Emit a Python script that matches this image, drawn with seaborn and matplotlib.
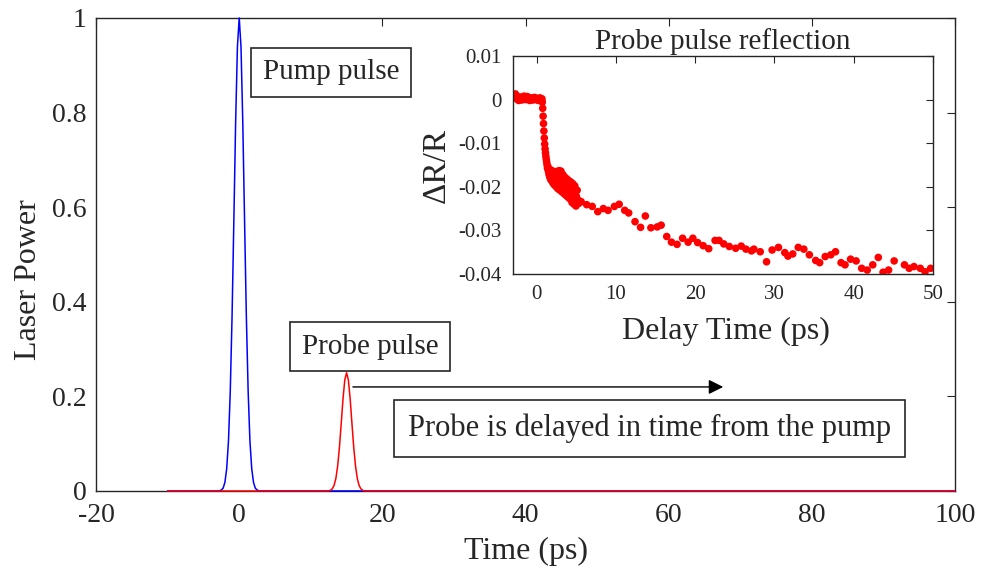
import matplotlib
matplotlib.use("Agg")
import matplotlib.pyplot as plt
import numpy as np
import pandas as pd
import seaborn as sns

# 脉冲形状（相对峰值，读自图中，单位 ps）
pulse_offsets = [-3.0, -2.75, -2.5, -2.25, -2.0, -1.75, -1.5, -1.25, -1.0, -0.75, -0.5, -0.25, 0.0,
                 0.25, 0.5, 0.75, 1.0, 1.25, 1.5, 1.75, 2.0, 2.25, 2.5, 2.75, 3.0]
pulse_shape = [0.0001, 0.0005, 0.002, 0.006, 0.018, 0.047, 0.105, 0.210, 0.368, 0.570, 0.779, 0.939, 1.0,
               0.939, 0.779, 0.570, 0.368, 0.210, 0.105, 0.047, 0.018, 0.006, 0.002, 0.0005, 0.0001]
time_start, time_end = -10, 100
pump_center, pump_peak = 0, 1.0
probe_center, probe_peak = 15, 0.25

# 插图数据：探测光反射 ΔR/R
delay_ps = [
    -3.0, -2.9, -2.8, -2.7, -2.6, -2.5, -2.4, -2.3, -2.2, -2.1, -2.0, -1.9, -1.8, -1.7, -1.6, -1.5,
    -1.4, -1.3, -1.2, -1.1, -1.0, -0.9, -0.8, -0.7, -0.6, -0.5, -0.4, -0.3, -0.2, -0.1, 0.0, 0.1,
    0.2, 0.3, 0.4, 0.5, 0.6, 0.65,
    0.7, 0.75, 0.8, 0.85, 0.9, 0.95, 1.0, 1.05, 1.1, 1.15, 1.2, 1.25, 1.3, 1.35, 1.4, 1.45, 1.5,
    1.55, 1.6, 1.65, 1.7, 1.75, 1.8, 1.85, 1.9, 1.95, 2.0, 2.05, 2.1, 2.15, 2.2, 2.25, 2.3, 2.35,
    2.4, 2.45, 2.5, 2.55, 2.6, 2.65, 2.7, 2.75, 2.8, 2.85, 2.9, 2.95, 3.0, 3.05, 3.1, 3.15, 3.2,
    3.25, 3.3, 3.35, 3.4, 3.45, 3.5, 3.55, 3.6, 3.65, 3.7, 3.75, 3.8, 3.85, 3.9, 3.95, 4.0, 4.05,
    4.1, 4.15, 4.2, 4.25, 4.3, 4.35, 4.4, 4.45, 4.5, 4.55, 4.6, 4.65, 4.7, 4.75, 4.8, 4.85, 4.9,
    4.95, 5.0, 5.1, 5.2, 5.3,
    5.6, 6.3, 7.0, 7.7, 8.4, 9.0, 9.8, 10.4, 11.1, 11.6, 12.4, 13.1, 13.7, 14.4, 15.2, 15.7,
    16.4, 17.0, 17.7, 18.4, 19.1, 19.7, 20.3, 21.0, 21.7, 22.5, 23.0, 23.6, 24.3, 25.1, 25.8,
    26.4, 27.1, 27.4, 28.2, 29.0, 29.7, 30.5, 31.3, 31.7, 32.3, 33.0, 33.7, 34.4, 35.2, 35.7,
    36.4, 37.1, 37.7, 38.4, 38.9, 39.6, 40.3, 41.0, 41.7, 42.4, 43.1, 43.7, 44.4, 45.1, 46.4,
    47.0, 47.6, 48.4, 49.0, 49.7,
]
dr_over_r = [
    0.0002, 0.0004, 0.0009, 0.0013, 0.0010, 0.0004, 0.0001, -0.0002, 0.0003, 0.0006, 0.0002,
    -0.0001, 0.0001, 0.0005, 0.0008, 0.0004, 0.0000, 0.0003, 0.0007, 0.0005, 0.0001, -0.0002,
    0.0002, 0.0004, 0.0001, -0.0001, 0.0003, 0.0005, 0.0002, 0.0000, 0.0003, 0.0001, -0.0002,
    0.0002, 0.0004, 0.0001, -0.0001, 0.0002,
    -0.0006, -0.0020, -0.0038, -0.0055, -0.0072, -0.0088, -0.0102, -0.0113, -0.0122, -0.0130,
    -0.0137, -0.0143, -0.0150, -0.0157, -0.0153, -0.0162, -0.0166,
    -0.0172, -0.0160, -0.0178, -0.0168, -0.0183, -0.0171, -0.0162, -0.0186, -0.0175, -0.0190,
    -0.0168, -0.0181, -0.0194, -0.0172, -0.0185, -0.0197, -0.0176, -0.0165, -0.0189, -0.0201,
    -0.0180, -0.0170, -0.0193, -0.0205, -0.0184, -0.0163, -0.0176, -0.0198, -0.0208, -0.0187,
    -0.0164, -0.0179, -0.0201, -0.0212, -0.0190, -0.0172, -0.0185, -0.0205, -0.0216, -0.0194,
    -0.0178, -0.0189, -0.0209, -0.0220, -0.0198, -0.0182, -0.0193, -0.0213, -0.0224, -0.0203,
    -0.0186, -0.0197, -0.0217, -0.0228, -0.0206, -0.0189, -0.0201, -0.0221, -0.0236, -0.0210,
    -0.0193, -0.0205, -0.0226, -0.0240, -0.0215, -0.0198, -0.0212, -0.0232, -0.0244, -0.0222,
    -0.0208, -0.0230, -0.0238,
    -0.0234, -0.0241, -0.0245, -0.0257, -0.0250, -0.0254, -0.0245, -0.0240, -0.0254, -0.0260,
    -0.0280, -0.0293, -0.0267, -0.0294, -0.0292, -0.0288, -0.0314, -0.0327, -0.0332, -0.0318,
    -0.0327, -0.0318, -0.0328, -0.0335, -0.0342, -0.0323, -0.0323, -0.0331, -0.0337, -0.0341,
    -0.0336, -0.0343, -0.0347, -0.0343, -0.0349, -0.0372, -0.0345, -0.0339, -0.0351, -0.0359,
    -0.0354, -0.0339, -0.0343, -0.0356, -0.0369, -0.0374, -0.0360, -0.0356, -0.0349, -0.0374,
    -0.0379, -0.0366, -0.0370, -0.0387, -0.0391, -0.0379, -0.0362, -0.0396, -0.0391, -0.0370,
    -0.0379, -0.0387, -0.0383, -0.0387, -0.0395, -0.0387,
]

# 刻度
main_xticks = [-20, 0, 20, 40, 60, 80, 100]
main_xticklabels = ["-20", "0", "20", "40", "60", "80", "100"]
main_yticks = [0, 0.2, 0.4, 0.6, 0.8, 1.0]
main_yticklabels = ["0", "0.2", "0.4", "0.6", "0.8", "1"]
inset_xticks = [0, 10, 20, 30, 40, 50]
inset_xticklabels = ["0", "10", "20", "30", "40", "50"]
inset_yticks = [0.01, 0, -0.01, -0.02, -0.03, -0.04]
inset_yticklabels = ["0.01", "0", "-0.01", "-0.02", "-0.03", "-0.04"]


def pulse_frame(center, peak):
    t = [time_start] + [center + o for o in pulse_offsets] + [time_end]
    p = [0.0] + [peak * s for s in pulse_shape] + [0.0]
    return pd.DataFrame({"t": t, "p": p})


pump_df = pulse_frame(pump_center, pump_peak)
probe_df = pulse_frame(probe_center, probe_peak)
refl_df = pd.DataFrame({"delay": delay_ps, "dr": dr_over_r})

sns.set_theme(style="white")
plt.rcParams["font.family"] = ["Liberation Serif", "DejaVu Serif"]
plt.rcParams["axes.edgecolor"] = "#262626"
plt.rcParams["xtick.color"] = "#262626"
plt.rcParams["ytick.color"] = "#262626"
plt.rcParams["text.color"] = "#262626"
plt.rcParams["axes.labelcolor"] = "#262626"

fig = plt.figure(figsize=(9.85, 5.75), dpi=100)
ax = fig.add_axes([0.0975, 0.1461, 0.8721, 0.8226])

sns.lineplot(data=pump_df, x="t", y="p", color="#0000ff", lw=1.1, estimator=None, sort=False, ax=ax,
             clip_on=False, zorder=3)
sns.lineplot(data=probe_df, x="t", y="p", color="#ff0000", lw=1.1, estimator=None, sort=False, ax=ax,
             clip_on=False, zorder=3)

ax.set_xlim(-20, 100)
ax.set_ylim(0, 1)
ax.set_xticks(main_xticks)
ax.set_xticklabels(main_xticklabels)
ax.set_yticks(main_yticks)
ax.set_yticklabels(main_yticklabels)
ax.tick_params(direction="in", length=6, width=0.8, labelsize=20, top=True, right=True)
ax.tick_params(axis="x", pad=9)
ax.tick_params(axis="y", pad=7)
for sp in ax.spines.values():
    sp.set_linewidth(1.0)
ax.set_xlabel("Time (ps)", fontsize=23)
ax.set_ylabel("Laser Power", fontsize=23)
ax.xaxis.set_label_coords(0.5, -0.098)
ax.yaxis.set_label_coords(-0.062, 0.446)

box = dict(boxstyle="square,pad=0.4", fc="white", ec="#262626", lw=1.2)
ax.text(12.8, 0.885, "Pump pulse", fontsize=21, ha="center", va="center", bbox=box)
ax.text(18.3, 0.305, "Probe pulse", fontsize=21, ha="center", va="center", bbox=box)
ax.text(57.3, 0.133, "Probe is delayed in time from the pump", fontsize=22, ha="center", va="center",
        bbox=dict(boxstyle="square,pad=0.45", fc="white", ec="#262626", lw=1.2))
ax.annotate("", xy=(68, 0.22), xytext=(15.5, 0.22),
            arrowprops=dict(arrowstyle="-|>", color="black", lw=1.0, mutation_scale=22))

# 插图
axi = fig.add_axes([0.5208, 0.5235, 0.4264, 0.3791])
sns.scatterplot(data=refl_df, x="delay", y="dr", color="#ff0000", s=30, edgecolor="none", ax=axi)
axi.set_xlim(-3, 50)
axi.set_ylim(-0.04, 0.01)
axi.set_xticks(inset_xticks)
axi.set_xticklabels(inset_xticklabels)
axi.set_yticks(inset_yticks)
axi.set_yticklabels(inset_yticklabels)
axi.tick_params(direction="in", length=5, width=0.8, labelsize=15, top=True, right=True, pad=8)
for sp in axi.spines.values():
    sp.set_linewidth(1.0)
axi.set_xlabel("Delay Time (ps)", fontsize=23)
axi.set_ylabel("ΔR/R", fontsize=24)
axi.xaxis.set_label_coords(0.507, -0.195)
axi.yaxis.set_label_coords(-0.145, 0.5)
axi.set_title("Probe pulse reflection", fontsize=21, pad=5)

fig.savefig("out.png", dpi=100)
